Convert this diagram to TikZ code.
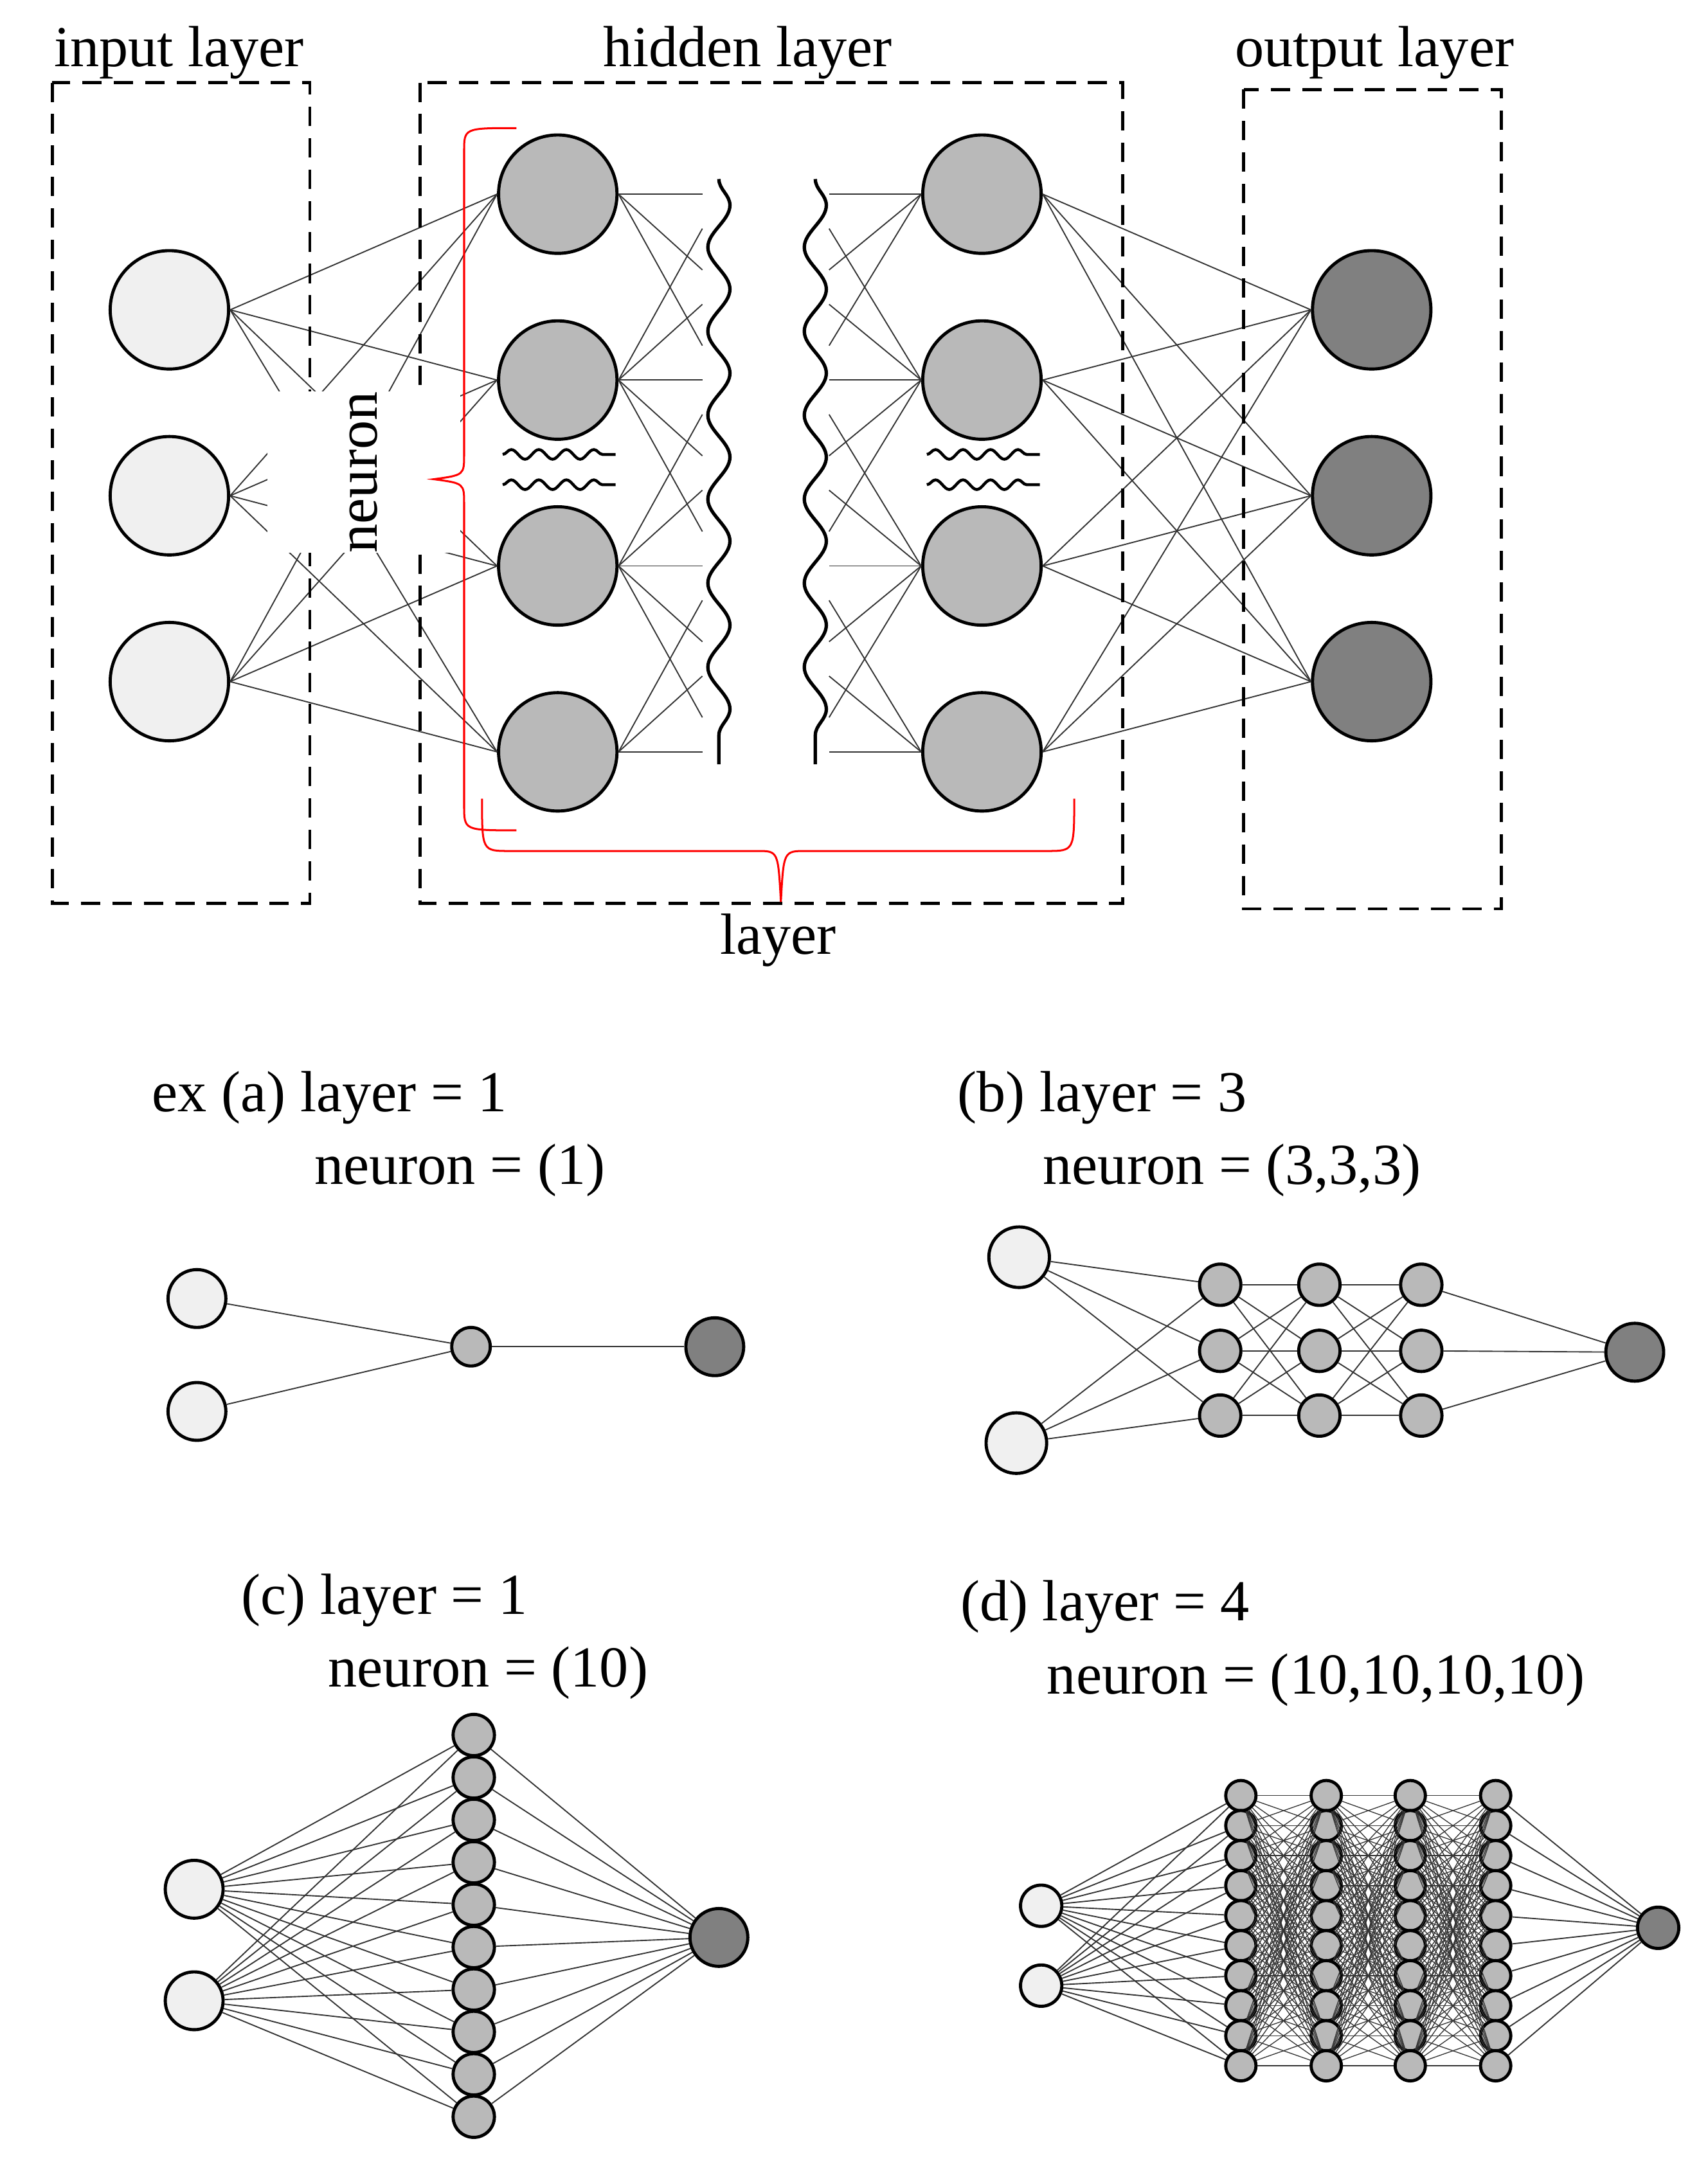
\documentclass[tikz,border=0pt]{standalone}
\usepackage{fontspec}
\setmainfont{Liberation Serif}
\usetikzlibrary{decorations.pathmorphing}

\tikzset{
  neu/.style={circle, draw, line width=1.3pt, inner sep=0pt},
  inn/.style={neu, fill=gray!12},
  hid/.style={neu, fill=gray!55},
  outn/.style={neu, fill=black!50},
  conn/.style={line width=0.5pt, black!80},
  box/.style={line width=1.3pt, dash pattern=on 8pt off 5pt},
  wavy/.style={line width=1.4pt, decorate, decoration={snake, segment length=1.22cm, amplitude=0.16cm}},
  squig/.style={line width=1.2pt, decorate, decoration={snake, segment length=0.4cm, amplitude=0.07cm}},
  lbl/.style={font=\fontsize{24}{26}\selectfont, inner sep=0pt}
}

\begin{document}
\begin{tikzpicture}[x=0.02cm, y=-0.02cm]
\useasboundingbox (0,0) rectangle (1240,1573);

% top network
\foreach \i/\y in {1/225,2/360,3/495} {
  \node [inn, minimum size=1.72cm] (in\i) at (123,\y) {};
  \node [outn, minimum size=1.72cm] (out\i) at (996,\y) {};
}
\foreach \i/\y in {1/141,2/276,3/411,4/546} {
  \node [hid, minimum size=1.72cm] (ha\i) at (405,\y) {};
  \node [hid, minimum size=1.72cm] (hb\i) at (713,\y) {};
}
\foreach \i in {1,2,3} \foreach \j in {1,2,3,4} {
  \draw [conn] (in\i.east) -- (ha\j.west);
  \draw [conn] (hb\j.east) -- (out\i.west);
}
% fans towards the gap
\foreach \j/\y in {1/141,2/276,3/411,4/546}
  \foreach \d in {-110,-55,0,55,110} {
    \pgfmathsetmacro\t{\y+\d}
    \ifdim \t pt>125pt \ifdim \t pt<560pt
      \coordinate (fa) at (510,\t);
      \coordinate (fb) at (602,\t);
      \draw [conn] (ha\j.east) -- (fa);
      \draw [conn] (hb\j.west) -- (fb);
    \fi\fi
  }
\draw [wavy] (522,130) -- (522,555);
\draw [wavy] (592,130) -- (592,555);
\foreach \x in {365,673} {
  \draw [squig] (\x,330) -- (\x+82,330);
  \draw [squig] (\x,352) -- (\x+82,352);
}

% layer boxes
\draw [box] (38,60) rectangle (225,656);
\draw [box] (305,60) rectangle (815,656);
\draw [box] (903,65) rectangle (1090,660);
\node [lbl] (tin) at (130,38) {input layer};
\node [lbl] (thid) at (543,38) {hidden layer};
\node [lbl] (tout) at (998,38) {output layer};

\node [lbl, fill=white, minimum width=2.0cm, minimum height=2.8cm, rotate=90] (tneu) at (264,343) {neuron};

% red braces
\draw [red, line width=0.8pt] (375,93) .. controls (337,93) .. (337,110) -- (337,330)
  .. controls (337,345) .. (315,348) .. controls (337,351) .. (337,366) -- (337,585)
  .. controls (337,603) .. (375,603);
\draw [red, line width=0.8pt] (350,580) .. controls (350,618) .. (370,618) -- (550,618)
  .. controls (565,618) .. (567,655) .. controls (569,618) .. (585,618) -- (760,618)
  .. controls (780,618) .. (780,580);
\node [lbl] (tlay) at (565,683) {layer};

% example (a)
\node [lbl, anchor=west] (ta1) at (110,797) {ex (a) layer = 1};
\node [lbl, anchor=west] (ta2) at (228,850) {neuron = (1)};
\node [inn, minimum size=0.84cm] (ai1) at (143,943) {};
\node [inn, minimum size=0.84cm] (ai2) at (143,1025) {};
\node [hid, minimum size=0.56cm] (ah1) at (342,978) {};
\node [outn, minimum size=0.84cm] (ao) at (519,978) {};
\foreach \i in {1,2} \draw [conn] (ai\i) -- (ah1);
\draw [conn] (ah1) -- (ao);

% example (b)
\node [lbl, anchor=west] (tb1) at (695,797) {(b) layer = 3};
\node [lbl, anchor=west] (tb2) at (757,850) {neuron = (3,3,3)};
\node [inn, minimum size=0.88cm] (bi1) at (740,913) {};
\node [inn, minimum size=0.88cm] (bi2) at (738,1048) {};
\node [outn, minimum size=0.84cm] (bo) at (1187,982) {};
\foreach \c/\x in {1/886,2/958,3/1032}
  \foreach \r/\y in {1/933,2/981,3/1028}
    \node [hid, minimum size=0.6cm] (b\c\r) at (\x,\y) {};
\foreach \r in {1,2,3} {
  \foreach \i in {1,2} \draw [conn] (bi\i) -- (b1\r);
  \draw [conn] (b3\r) -- (bo);
  \foreach \s in {1,2,3} {
    \draw [conn] (b1\r) -- (b2\s);
    \draw [conn] (b2\r) -- (b3\s);
  }
}

% example (c)
\node [lbl, anchor=west] (tc1) at (175,1162) {(c) layer = 1};
\node [lbl, anchor=west] (tc2) at (238,1215) {neuron = (10)};
\node [inn, minimum size=0.84cm] (ci1) at (141,1372) {};
\node [inn, minimum size=0.84cm] (ci2) at (141,1453) {};
\node [outn, minimum size=0.84cm] (co) at (522,1407) {};
\foreach \r in {1,...,10} {
  \node [hid, minimum size=0.6cm] (c\r) at (344,{1260+(\r-1)*30.8}) {};
  \foreach \i in {1,2} \draw [conn] (ci\i) -- (c\r);
  \draw [conn] (c\r) -- (co);
}

% example (d)
\node [lbl, anchor=west] (td1) at (697,1167) {(d) layer = 4};
\node [lbl, anchor=west] (td2) at (760,1220) {neuron = (10,10,10,10)};
\node [inn, minimum size=0.6cm] (di1) at (756,1384) {};
\node [inn, minimum size=0.6cm] (di2) at (756,1442) {};
\node [outn, minimum size=0.6cm] (dout) at (1204,1400) {};
\foreach \c/\x in {1/901,2/963,3/1024,4/1086}
  \foreach \r in {1,...,10}
    \node [hid, minimum size=0.44cm] (d\c\r) at (\x,{1304+(\r-1)*21.8}) {};
\foreach \r in {1,...,10} {
  \foreach \i in {1,2} \draw [conn] (di\i) -- (d1\r);
  \draw [conn] (d4\r) -- (dout);
  \foreach \s in {1,...,10} {
    \draw [conn, line width=0.35pt] (d1\r) -- (d2\s);
    \draw [conn, line width=0.35pt] (d2\r) -- (d3\s);
    \draw [conn, line width=0.35pt] (d3\r) -- (d4\s);
  }
}
\end{tikzpicture}
\end{document}
